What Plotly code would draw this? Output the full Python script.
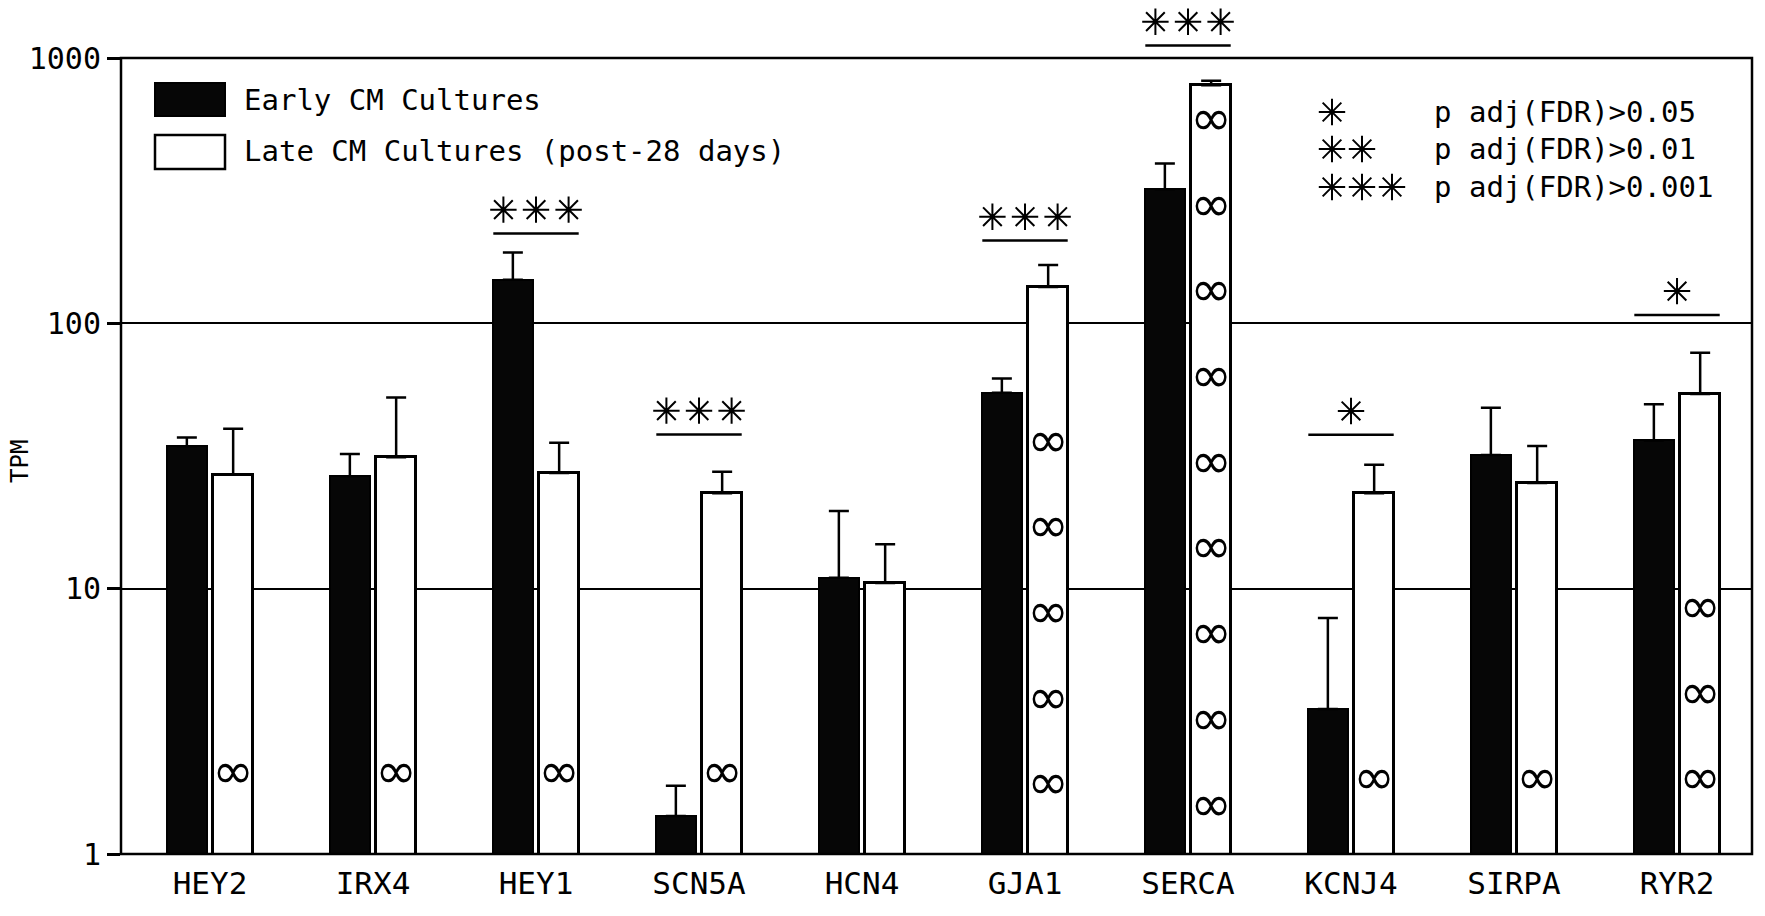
import math
import plotly.graph_objects as go

# Gene panel and expression values (TPM)
genes = ["HEY2", "IRX4", "HEY1", "SCN5A", "HCN4", "GJA1", "SERCA", "KCNJ4", "SIRPA", "RYR2"]
early_tpm = [34.4, 26.5, 146, 1.39, 11.0, 54.7, 320, 3.52, 31.9, 36.2]
early_err_top = [37.1, 32.2, 185, 1.81, 19.6, 62, 400, 7.76, 48.1, 49.6]
late_tpm = [26.9, 31.3, 27.3, 22.9, 10.5, 137, 790, 22.9, 25.0, 54.2]
late_err_top = [40.1, 52.5, 35.5, 27.6, 14.7, 166, 820, 29.3, 34.5, 77.4]

# Significance brackets: gene index, stars, bracket height (TPM)
sig_index = [2, 3, 5, 6, 7, 9]
sig_stars = [3, 3, 3, 3, 1, 1]
sig_level = [218, 38.1, 205, 1114, 38.0, 107.5]

sig_legend = ["p adj(FDR)>0.05", "p adj(FDR)>0.01", "p adj(FDR)>0.001"]
series_names = ["Early CM Cultures", "Late CM Cultures (post-28 days)"]

# Decorative loop pattern inside the late bars: first loop height and loop count
loop_start = [1.97, 1.97, 1.97, 1.97, 1.0, 1.79, 1.49, 1.87, 1.87, 1.87]
loop_count = [1, 1, 1, 1, 0, 5, 9, 1, 1, 3]
LOOP_STEP = 10 ** 0.323

FONT = "DejaVu Sans Mono"
OFF = 0.142      # half distance between paired bars (category units)
BW = 0.249       # bar width
STAR_DX = 0.2    # horizontal spacing of stars
STAR_LIFT = 10 ** 0.09

# Figure geometry (pixels); the plot area extends above the 1000 line so
# brackets drawn over tall bars stay visible.
W, H = 1765, 916
ML, MR, MB = 121, 13, 62
Y_MAX = 1000
Y_TOP = 3 + 58 / ((H - MB - 58) / 3)     # log10 of the top of the drawing area


def px(x):
    return (x - ML) / (W - ML - MR)


def py(y):
    return (H - MB - y) / (H - MB)


idx = list(range(len(genes)))
fig = go.Figure()

fig.add_trace(go.Bar(
    x=[i - OFF for i in idx], y=early_tpm, width=BW, name=series_names[0],
    marker=dict(color="#060606", line=dict(color="black", width=2)),
    error_y=dict(type="data", symmetric=False,
                 array=[t - v for t, v in zip(early_err_top, early_tpm)],
                 arrayminus=[0] * len(genes), color="black", thickness=2.5, width=10),
    showlegend=False,
))
fig.add_trace(go.Bar(
    x=[i + OFF for i in idx], y=late_tpm, width=BW, name=series_names[1],
    marker=dict(color="white", line=dict(color="black", width=3)),
    error_y=dict(type="data", symmetric=False,
                 array=[t - v for t, v in zip(late_err_top, late_tpm)],
                 arrayminus=[0] * len(genes), color="black", thickness=2.5, width=10),
    showlegend=False,
))

# loop pattern marks
lx, ly = [], []
for i, s, n in zip(idx, loop_start, loop_count):
    for k in range(n):
        lx.append(i + OFF)
        ly.append(s * LOOP_STEP ** k)
fig.add_trace(go.Scatter(
    x=lx, y=ly, mode="text", text=["∞"] * len(lx), showlegend=False, hoverinfo="skip",
    textposition="middle center",
    textfont=dict(family="DejaVu Sans", size=50, color="black"),
))

# significance brackets and stars
fig.add_trace(go.Scatter(
    x=sig_index, y=sig_level, mode="markers", showlegend=False, cliponaxis=False,
    marker=dict(symbol="line-ew-open", size=61, color="black", line=dict(width=2.5, color="black")),
))
sx, sy = [], []
for i, n, h in zip(sig_index, sig_stars, sig_level):
    for k in range(n):
        sx.append(i + (k - (n - 1) / 2) * STAR_DX)
        sy.append(h * STAR_LIFT)
fig.add_trace(go.Scatter(
    x=sx, y=sy, mode="markers", showlegend=False, cliponaxis=False,
    marker=dict(symbol="asterisk-open", size=22, color="black", line=dict(width=2, color="black")),
))

# star key in the upper right, on an overlay axis spanning the drawing area
row_y = [py(112), py(149), py(187)]
kx, ky = [], []
for r, yy in enumerate(row_y):
    for k in range(r + 1):
        kx.append(px(1332 + 30 * k))
        ky.append(yy)
fig.add_trace(go.Scatter(
    x=kx, y=ky, xaxis="x2", yaxis="y2", mode="markers", showlegend=False,
    marker=dict(symbol="asterisk-open", size=22, color="black", line=dict(width=2, color="black")),
))

annotations = []
for txt, yy in zip(sig_legend, row_y):
    annotations.append(dict(text=txt, x=px(1432), y=yy, xref="paper", yref="paper",
                            xanchor="left", yanchor="middle", showarrow=False,
                            font=dict(family=FONT, size=29, color="black")))

frame_top = math.log10(Y_MAX) / Y_TOP
shapes = [
    # plot frame from 1 to 1000 TPM
    dict(type="rect", xref="paper", yref="paper", x0=0, x1=1, y0=0, y1=frame_top,
         line=dict(color="black", width=2.5), layer="above"),
    # series key
    dict(type="rect", xref="paper", yref="paper", x0=px(155), x1=px(225), y0=py(116), y1=py(83),
         fillcolor="#060606", line=dict(color="black", width=2)),
    dict(type="rect", xref="paper", yref="paper", x0=px(155), x1=px(225), y0=py(169), y1=py(135),
         fillcolor="white", line=dict(color="black", width=2.5)),
]
for txt, yy in zip(series_names, [py(100), py(151)]):
    annotations.append(dict(text=txt, x=px(242), y=yy, xref="paper", yref="paper",
                            xanchor="left", yanchor="middle", showarrow=False,
                            font=dict(family=FONT, size=29, color="black")))

annotations.append(dict(text="TPM", x=px(20), y=py(462), xref="paper", yref="paper",
                        textangle=-90, showarrow=False, xanchor="center", yanchor="middle",
                        font=dict(family=FONT, size=24, color="black")))

fig.update_layout(
    width=W, height=H,
    margin=dict(l=ML, r=MR, t=0, b=MB),
    paper_bgcolor="white", plot_bgcolor="white",
    barmode="overlay", bargap=0,
    font=dict(family=FONT, color="black"),
    shapes=shapes, annotations=annotations,
    xaxis=dict(
        range=[-0.546, 9.46], tickmode="array", tickvals=idx, ticktext=genes,
        ticks="", showgrid=False, zeroline=False, showline=False,
        tickfont=dict(family=FONT, size=31, color="black"),
        ticklabelstandoff=8,
    ),
    yaxis=dict(
        type="log", range=[0, Y_TOP], tickmode="array",
        tickvals=[1, 10, 100, 1000], ticktext=["1", "10", "100", "1000"],
        ticks="outside", ticklen=13, tickwidth=2.5, tickcolor="black",
        showgrid=True, gridcolor="black", gridwidth=2,
        showline=False, zeroline=False,
        tickfont=dict(family=FONT, size=30, color="black"),
    ),
    xaxis2=dict(overlaying="x", range=[0, 1], visible=False),
    yaxis2=dict(overlaying="y", range=[0, 1], visible=False),
)

fig.write_html("out.html")
